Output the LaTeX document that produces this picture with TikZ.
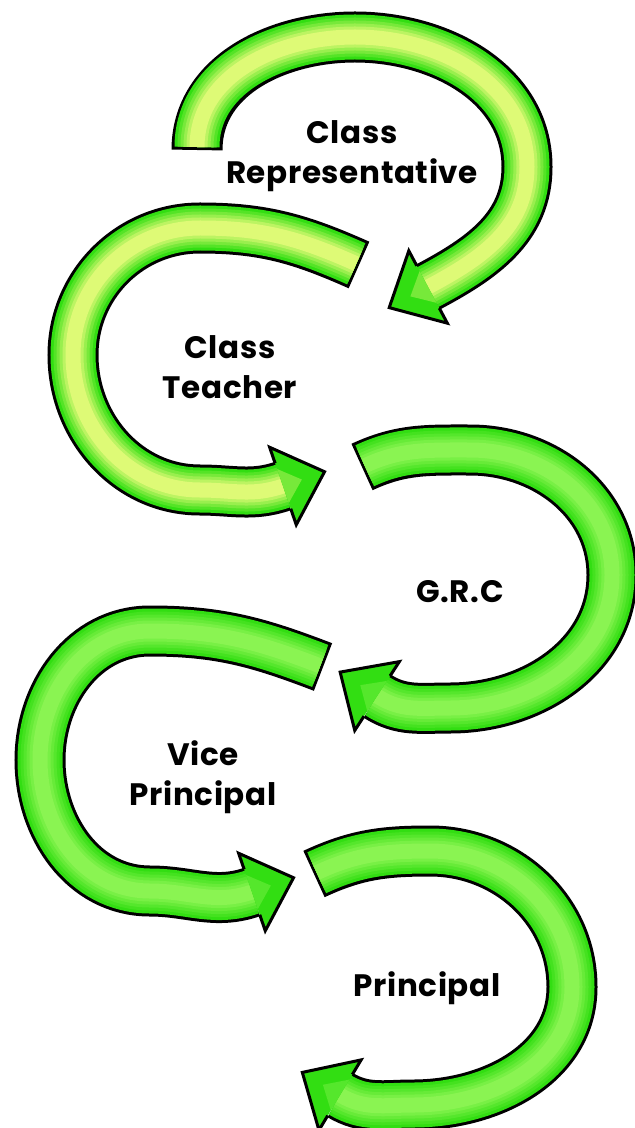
\documentclass[tikz,border=0pt]{standalone}
\usepackage{fontspec}
\setmainfont{Poppins}
\usepackage{tikz}
\usetikzlibrary{decorations.markings}
\definecolor{Band}{RGB}{50,222,18}
\definecolor{Pale}{RGB}{222,250,118}
\definecolor{Lime}{RGB}{138,244,82}
\newcommand{\steplabel}[3]{\node[align=center, font=\bfseries\fontsize{15.5}{20}\selectfont\addfontfeature{LetterSpace=2}] (#1) at (#2) {#3};}
\newcommand{\greenarrow}[2]{
    \draw[line width=25.5pt] #2;
    \foreach \w/\p in {22.5/0,19.5/20,16.5/40,13.5/60,10.5/80,7.5/100}{
      \draw[line width=\w pt, #1!\p!Band, shorten <=1.5pt] #2;
    }
    \path[decorate, decoration={markings, mark=at position 0.9999 with {
      \fill[Band] (0pt,-20.5pt) -- (22pt,0pt) -- (0pt,20.5pt) -- cycle;
      \fill[#1!40!Band] (0pt,-9pt) -- (10pt,0pt) -- (0pt,9pt) -- cycle;
      \draw[line width=1.5pt] (0pt,12pt) -- (0pt,20.5pt) -- (22pt,0pt) -- (0pt,-20.5pt) -- (0pt,-12pt);
    }}] #2;
}

\begin{document}
\begin{tikzpicture}[x=0.5pt, y=0.5pt]
\useasboundingbox (0,0) rectangle (634,-1128);
\greenarrow{Pale}{(197,-150) to[out=90,in=180] (355,-37) to[out=0,in=90] (527,-167) to[out=-90,in=28] (428,-287)}
\greenarrow{Pale}{(359,-265) to[out=156,in=0] (200,-228) to[out=180,in=90] (73,-355) to[out=-90,in=180] (200,-490) to[out=0,in=199] (283,-486)}
\greenarrow{Lime}{(362,-467) to[out=25,in=180] (470,-450) to[out=0,in=90] (612,-575) to[out=-90,in=0] (450,-708) to[out=180,in=-33] (377,-696)}
\greenarrow{Lime}{(323,-667) to[out=159,in=0] (150,-631) to[out=180,in=90] (40,-760) to[out=-90,in=180] (150,-891) to[out=0,in=199] (252,-892)}
\greenarrow{Lime}{(314,-874) to[out=25,in=180] (430,-851) to[out=0,in=90] (572,-987) to[out=-90,in=0] (413,-1105) to[out=180,in=-31] (340,-1095)}
\steplabel{rep}{352,-156}{Class\\Representative}
\steplabel{teacher}{230,-367}{Class\\Teacher}
\steplabel{grc}{460,-592}{G.R.C}
\steplabel{vice}{203,-777}{Vice\\Principal}
\steplabel{principal}{427,-988}{Principal}
\end{tikzpicture}
\end{document}
